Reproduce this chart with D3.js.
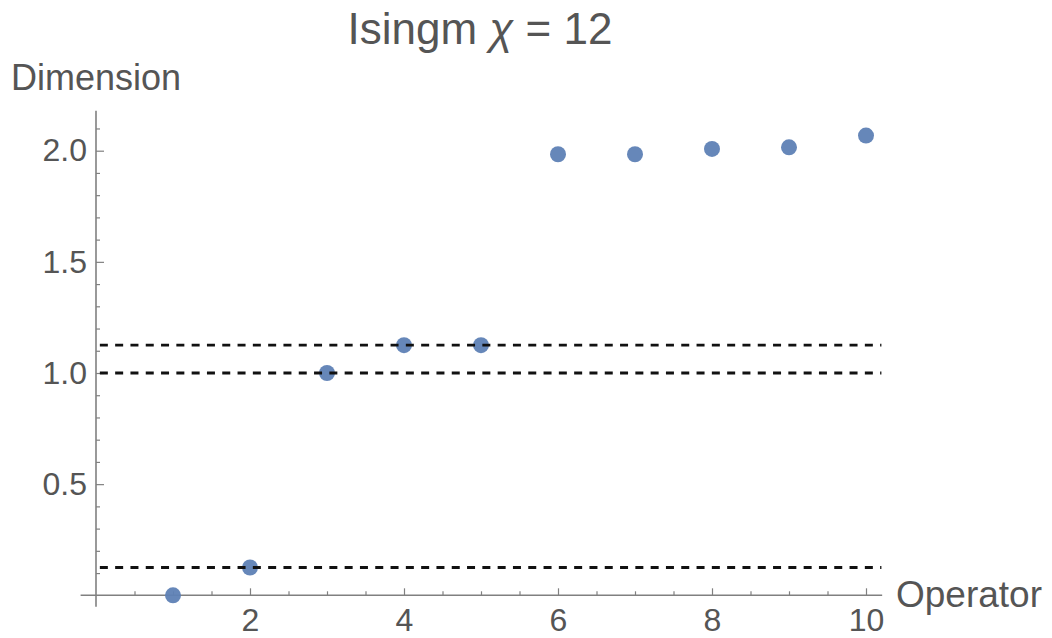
<!DOCTYPE html>
<html>
<head>
<meta charset="utf-8">
<script src="https://cdn.jsdelivr.net/npm/d3@7"></script>
<style>
  body { margin: 0; background: #fff; }
  text { font-family: "Liberation Sans", Arial, sans-serif; }
</style>
</head>
<body>
<svg></svg>
<script>
var svgWidth = 1052;
var svgHeight = 638;

// data
var operators = [1, 2, 3, 4, 5, 6, 7, 8, 9, 10];
var dimensions = [0, 0.125, 1.0, 1.125, 1.125, 1.984, 1.984, 2.008, 2.015, 2.068];
var refLines = [0.125, 1.0, 1.125];
var xTicks = [2, 4, 6, 8, 10];
var yTicks = [0.5, 1.0, 1.5, 2.0];

var axisColor = '#808080';
var textColor = '#555';
var pointColor = '#5e81b5';

var svg = d3.select('svg')
                .attr('width', svgWidth)
                .attr('height', svgHeight);

var x = d3.scaleLinear().domain([0, 10]).range([96, 866]);
var y = d3.scaleLinear().domain([0, 2]).range([595.3, 150.7]);

/* minor ticks first, majors on top */
function drawAxes(){
    var xMinor = d3.range(0.5, 10.01, 0.5).filter(v => xTicks.indexOf(v) < 0);
    var yMinor = d3.range(0.1, 2.15, 0.1).filter(v => !yTicks.some(t => Math.abs(t - v) < 1e-6));

    svg.append('g')
        .attr('transform', `translate(0,${y(0)})`)
        .call(d3.axisBottom(x).tickValues(xMinor).tickSize(-4).tickFormat(''));
    svg.append('g')
        .attr('transform', `translate(${x(0)},0)`)
        .call(d3.axisLeft(y).tickValues(yMinor).tickSize(-4).tickFormat(''));

    svg.append('g')
        .attr('class', 'x-axis')
        .attr('transform', `translate(0,${y(0)})`)
        .call(d3.axisBottom(x).tickValues(xTicks).tickSize(-7).tickPadding(13).tickFormat(d3.format('d')));
    svg.append('g')
        .attr('class', 'y-axis')
        .attr('transform', `translate(${x(0)},0)`)
        .call(d3.axisLeft(y).tickValues(yTicks).tickSize(-8).tickPadding(9).tickFormat(d3.format('.1f')));

    svg.selectAll('.domain').remove();
    svg.selectAll('.tick line').attr('stroke', axisColor).attr('stroke-width', 1.2);
    svg.selectAll('.tick text')
        .attr('fill', textColor)
        .style('font-size', '32px')
        .style('font-family', '"Liberation Sans", Arial, sans-serif');

    svg.append('line')
        .attr('x1', x(-0.2)).attr('x2', x(10.21))
        .attr('y1', y(0)).attr('y2', y(0))
        .attr('stroke', axisColor).attr('stroke-width', 1.6);
    svg.append('line')
        .attr('x1', x(0)).attr('x2', x(0))
        .attr('y1', y(-0.052)).attr('y2', y(2.18))
        .attr('stroke', axisColor).attr('stroke-width', 1.6);
}

function drawPoints(){
    svg.selectAll('circle.pt')
        .data(operators)
        .enter()
        .append('circle')
        .attr('class', 'pt')
        .attr('cx', d => x(d))
        .attr('cy', (d, i) => y(dimensions[i]))
        .attr('r', 8)
        .style('fill', pointColor)
        .style('fill-opacity', 0.95);
}

// dashed lines sit on top of the points in the original
function drawRefLines(){
    svg.selectAll('line.ref')
        .data(refLines)
        .enter()
        .append('line')
        .attr('class', 'ref')
        .attr('x1', x(0.05))
        .attr('x2', x(10.2))
        .attr('y1', d => y(d))
        .attr('y2', d => y(d))
        .attr('stroke', '#111')
        .attr('stroke-width', 2.8)
        .attr('stroke-dasharray', '8,7.3');
}

function drawLabels(){
    var t = svg.append('text')
        .attr('x', 480).attr('y', 44)
        .attr('text-anchor', 'middle')
        .attr('fill', textColor)
        .style('font-size', '44px');
    t.append('tspan').text('Isingm ');
    t.append('tspan').style('font-style', 'italic').text('\u03C7');
    t.append('tspan').text(' = 12');

    svg.append('text')
        .attr('x', 11).attr('y', 90)
        .attr('fill', textColor)
        .style('font-size', '36px')
        .text('Dimension');

    svg.append('text')
        .attr('x', 896).attr('y', 607)
        .attr('fill', textColor)
        .style('font-size', '37px')
        .text('Operator');
}

drawAxes();
drawPoints();
drawRefLines();
drawLabels();
</script>
</body>
</html>
